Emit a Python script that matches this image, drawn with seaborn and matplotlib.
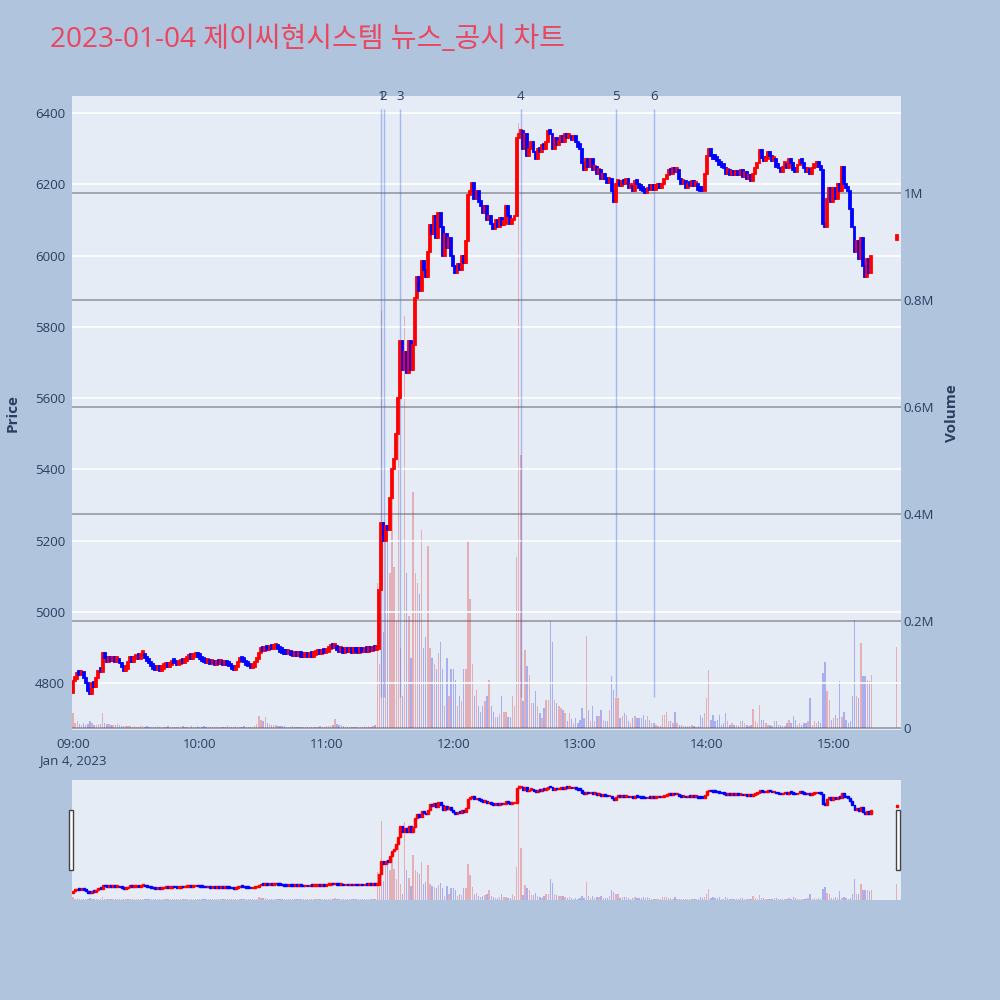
# 2023-01-04 JC Hyun System - intraday news / disclosure chart
import matplotlib
matplotlib.use('Agg')
import matplotlib.pyplot as plt
from matplotlib.patches import Rectangle
import seaborn as sns
import numpy as np
import pandas as pd

# ---- data ----
title = '2023-01-04 제이씨현시스템 뉴스_공시 차트'
session_start = '09:00'
first_open = 4772

# one close per minute, 09:00 .. 15:18
closes = [
    4805, 4812, 4828, 4822, 4830, 4815, 4800, 4778, 4770, 4800,
    4790, 4815, 4835, 4830, 4885, 4870, 4860, 4872, 4862, 4870,
    4860, 4868, 4855, 4845, 4835, 4840, 4860, 4865, 4860, 4866,
    4870, 4868, 4878, 4882, 4870, 4862, 4855, 4848, 4840, 4836,
    4838, 4835, 4840, 4845, 4850, 4845, 4850, 4858, 4855, 4850,
    4852, 4858, 4855, 4862, 4866, 4870, 4868, 4872, 4875, 4872,
    4868, 4862, 4858, 4855, 4858, 4852, 4856, 4850, 4855, 4852,
    4856, 4850, 4853, 4850, 4848, 4840, 4836, 4845, 4858, 4865,
    4862, 4858, 4850, 4848, 4842, 4845, 4858, 4868, 4885, 4893,
    4890, 4898, 4893, 4900, 4895, 4898, 4903, 4895, 4888, 4885,
    4882, 4880, 4884, 4878, 4876, 4878, 4875, 4878, 4874, 4872,
    4875, 4872, 4876, 4874, 4878, 4880, 4882, 4880, 4885, 4883,
    4888, 4895, 4903, 4898, 4900, 4892, 4888, 4890, 4885, 4888,
    4886, 4888, 4885, 4888, 4886, 4885, 4890, 4887, 4892, 4888,
    4893, 4890, 4895, 4893, 4895, 5060, 5250, 5200, 5240, 5230,
    5320, 5400, 5430, 5500, 5600, 5760, 5680, 5730, 5670, 5760,
    5680, 5750, 5880, 5940, 5900, 5985, 5960, 5940, 6010, 6085,
    6060, 6110, 6050, 6120, 6080, 6000, 6060, 6020, 6050, 6000,
    5970, 5950, 5975, 5960, 6000, 5980, 6040, 6170, 6180, 6205,
    6160, 6180, 6150, 6140, 6120, 6140, 6100, 6110, 6090, 6075,
    6100, 6080, 6105, 6085, 6090, 6140, 6110, 6090, 6100, 6110,
    6330, 6340, 6350, 6300, 6340, 6280, 6300, 6320, 6290, 6270,
    6300, 6290, 6310, 6300, 6320, 6350, 6340, 6300, 6330, 6310,
    6320, 6335, 6320, 6340, 6330, 6335, 6325, 6335, 6320, 6305,
    6300, 6260, 6240, 6270, 6250, 6270, 6240, 6250, 6230, 6240,
    6215, 6230, 6215, 6205, 6215, 6180, 6150, 6200, 6210, 6195,
    6210, 6200, 6215, 6190, 6195, 6180, 6210, 6200, 6190, 6185,
    6180, 6175, 6190, 6185, 6195, 6185, 6190, 6195, 6190, 6200,
    6215, 6225, 6240, 6230, 6245, 6235, 6240, 6215, 6200, 6210,
    6190, 6200, 6195, 6210, 6195, 6200, 6185, 6180, 6180, 6230,
    6280, 6300, 6280, 6270, 6270, 6265, 6255, 6250, 6245, 6230,
    6240, 6225, 6230, 6225, 6235, 6225, 6240, 6220, 6235, 6215,
    6225, 6210, 6230, 6245, 6260, 6295, 6275, 6265, 6270, 6290,
    6280, 6265, 6270, 6250, 6245, 6235, 6250, 6255, 6245, 6270,
    6260, 6240, 6235, 6255, 6265, 6260, 6245, 6235, 6240, 6230,
    6245, 6250, 6255, 6250, 6240, 6090, 6080, 6160, 6190, 6150,
    6190, 6160, 6200, 6180, 6250, 6200, 6190, 6180, 6130, 6080,
    6010, 6040, 5990, 6050, 5970, 5940, 5990, 5950, 6000,
]

# volume per minute, in thousand shares
volumes_k = [
    28, 9, 12, 7, 6, 10, 6, 8, 12, 9,
    6, 5, 8, 7, 27, 10, 8, 7, 6, 5,
    6, 7, 5, 4, 4, 3, 3, 4, 2, 3,
    2, 2, 3, 4, 2, 3, 2, 2, 1, 2,
    3, 2, 1, 2, 2, 3, 2, 1, 2, 2,
    1, 2, 3, 2, 2, 2, 3, 2, 2, 3,
    2, 2, 3, 2, 1, 2, 2, 2, 1, 2,
    2, 2, 2, 3, 2, 1, 2, 3, 2, 2,
    2, 3, 2, 2, 2, 2, 4, 7, 22, 15,
    12, 20, 9, 8, 6, 5, 6, 4, 3, 3,
    3, 2, 2, 2, 3, 2, 2, 1, 2, 2,
    1, 2, 2, 1, 2, 2, 2, 3, 2, 2,
    3, 3, 4, 6, 16, 8, 6, 5, 3, 2,
    2, 2, 1, 2, 2, 1, 2, 2, 3, 2,
    3, 2, 4, 6, 270, 120, 780, 180, 360, 360,
    290, 440, 300, 200, 560, 150, 60, 770, 290, 210,
    130, 440, 290, 270, 250, 370, 150, 170, 340, 150,
    130, 120, 110, 140, 160, 110, 40, 130, 60, 110,
    110, 90, 40, 60, 50, 110, 110, 350, 240, 120,
    60, 70, 40, 30, 40, 50, 60, 90, 40, 30,
    20, 20, 25, 60, 30, 30, 20, 20, 60, 40,
    320, 1130, 510, 50, 146, 115, 99, 46, 46, 68,
    40, 27, 18, 37, 52, 52, 199, 161, 52, 46,
    40, 37, 34, 27, 12, 27, 16, 9, 18, 9,
    15, 37, 18, 171, 34, 12, 40, 12, 22, 22,
    34, 15, 12, 12, 34, 96, 71, 55, 55, 18,
    22, 27, 24, 12, 9, 18, 22, 18, 18, 18,
    24, 15, 22, 15, 9, 9, 5, 4, 4, 24,
    24, 30, 12, 12, 9, 30, 9, 6, 6, 4,
    4, 4, 4, 6, 4, 2, 4, 24, 18, 27,
    55, 108, 15, 24, 12, 15, 24, 6, 9, 27,
    12, 6, 9, 6, 6, 4, 12, 12, 9, 6,
    4, 6, 35, 12, 9, 43, 15, 15, 9, 6,
    6, 4, 12, 12, 6, 6, 4, 4, 9, 15,
    9, 22, 15, 6, 9, 6, 9, 9, 12, 55,
    6, 12, 9, 12, 9, 102, 124, 68, 52, 15,
    18, 24, 18, 87, 20, 30, 15, 9, 12, 60,
    202, 59, 55, 158, 96, 96, 90, 87, 99,
]

# closing single-price auction
auction_time = '15:30'
auction_open = 6045
auction_close = 6050
auction_volume_k = 152

news_labels = ['1', '2', '3', '4', '5', '6']
news_times = ['11:26', '11:27', '11:35', '12:32', '13:17', '13:35']
news_low, news_high = 4761, 6411

hour_ticks = ['09:00', '10:00', '11:00', '12:00', '13:00', '14:00', '15:00']
date_label = 'Jan 4, 2023'
price_ticks = [4800, 5000, 5200, 5400, 5600, 5800, 6000, 6200, 6400]
volume_ticks = [0, 200000, 400000, 600000, 800000, 1000000]
volume_tick_labels = ['0', '0.2M', '0.4M', '0.6M', '0.8M', '1M']


def to_minute(hhmm):
    h, m = hhmm.split(':')
    h0, m0 = session_start.split(':')
    return (int(h) - int(h0)) * 60 + int(m) - int(m0)


# ---- table ----
minutes = list(range(len(closes))) + [to_minute(auction_time)]
close_all = closes + [auction_close]
open_all = [first_open] + closes[:-1] + [auction_open]
df = pd.DataFrame({'minute': minutes, 'open': open_all, 'close': close_all,
                   'volume': np.array(volumes_k + [auction_volume_k]) * 1000})
df['direction'] = np.where(df['close'] > df['open'], 'up', 'down')
df['bottom'] = df[['open', 'close']].min(axis=1)
df['body'] = (df['close'] - df['open']).abs()

# ---- style ----
BG = '#B0C4DE'
PLOT_BG = '#E5ECF6'
TXT = '#2a3f5f'
UP, DOWN = '#ff0000', '#0000ff'
sns.set_theme(style='white', rc={'axes.facecolor': PLOT_BG, 'figure.facecolor': BG})
plt.rcParams['font.family'] = ['Open Sans', 'Noto Sans CJK KR', 'DejaVu Sans']

price_lim = (4668, 6448)
vol_lim = (-4000, 1181000)
x_lim = (-0.5, 392)


def draw_panel(ax_p, ax_v, min_body, edge_width, show_volume_grid):
    # volume sits on the lower twin, candles on top
    ax_p.set_zorder(ax_v.get_zorder() + 1)
    ax_p.patch.set_visible(False)
    ax_v.patch.set_visible(True)
    ax_v.patch.set_facecolor(PLOT_BG)
    sns.barplot(data=df, x='minute', y='volume', hue='direction',
                palette={'up': UP, 'down': DOWN}, native_scale=True,
                dodge=False, errorbar=None, width=0.65, alpha=0.3,
                linewidth=0, legend=False, ax=ax_v)
    colors = df['direction'].map({'up': UP, 'down': DOWN})
    ax_p.bar(df['minute'], np.maximum(df['body'], min_body), bottom=df['bottom'],
             width=0.9, color=colors, edgecolor=colors, linewidth=edge_width,
             zorder=3)
    ax_p.set_xlim(*x_lim)
    ax_v.set_xlim(*x_lim)
    ax_p.set_ylim(*price_lim)
    ax_v.set_ylim(*vol_lim)
    for a in (ax_p, ax_v):
        for s in a.spines.values():
            s.set_visible(False)
        a.set_xlabel('')
        a.set_ylabel('')
    if show_volume_grid:
        ax_v.set_yticks(volume_ticks)
        ax_v.grid(axis='y', color='#a2a5ab', linewidth=1.4)
        ax_v.grid(axis='x', visible=False)


fig = plt.figure(figsize=(10, 10), dpi=100)
fig.patch.set_facecolor(BG)

# main panel
ax = fig.add_axes([0.072, 0.27, 0.829, 0.634])
ax_vol = ax.twinx()
draw_panel(ax, ax_vol, 12, 1.3, True)

ax.set_yticks(price_ticks)
ax.set_yticklabels([str(t) for t in price_ticks])
ax.grid(axis='y', color='white', linewidth=1.2)
ax.grid(axis='x', visible=False)
ax.tick_params(axis='y', length=0, pad=5, labelsize=9.5, labelcolor=TXT)
ax_vol.set_yticklabels(volume_tick_labels)
ax_vol.tick_params(axis='y', length=0, pad=2, labelsize=9.5, labelcolor=TXT)

hour_pos = [to_minute(t) for t in hour_ticks]
hour_lab = [hour_ticks[0] + '\n' + date_label] + hour_ticks[1:]
ax.set_xticks(hour_pos)
ax.set_xticklabels(hour_lab, linespacing=1.25)
ax.tick_params(axis='x', length=0, pad=6, labelsize=9.5, labelcolor=TXT)
ax_vol.tick_params(axis='x', length=0, labelbottom=False)

ax.set_ylabel('Price', fontsize=11, fontweight='bold', color=TXT, labelpad=11)
ax_vol.set_ylabel('Volume', fontsize=11, fontweight='bold', color=TXT, labelpad=8)

# news / disclosure markers
news_pos = [to_minute(t) for t in news_times]
ax.vlines(news_pos, news_low, news_high, colors='royalblue', alpha=0.4,
          linewidth=1, zorder=2)
for lab, pos in zip(news_labels, news_pos):
    ax.text(pos, 1.0, lab, transform=ax.get_xaxis_transform(), ha='center',
            va='center', fontsize=9.5, color=TXT)

# range slider
ax_s = fig.add_axes([0.072, 0.10, 0.829, 0.12])
ax_sv = ax_s.twinx()
draw_panel(ax_s, ax_sv, 25, 1.0, False)
for a in (ax_s, ax_sv):
    a.set_xticks([])
    a.set_yticks([])
    a.grid(False)
for hx in (0.069, 0.896):
    fig.add_artist(Rectangle((hx, 0.13), 0.004, 0.06, transform=fig.transFigure,
                             facecolor='white', edgecolor='#444444', linewidth=1))

fig.text(0.05, 0.96, title, fontsize=20.2, color='#e8475f', va='center', ha='left')

fig.savefig('out.png', dpi=100, facecolor=BG)
